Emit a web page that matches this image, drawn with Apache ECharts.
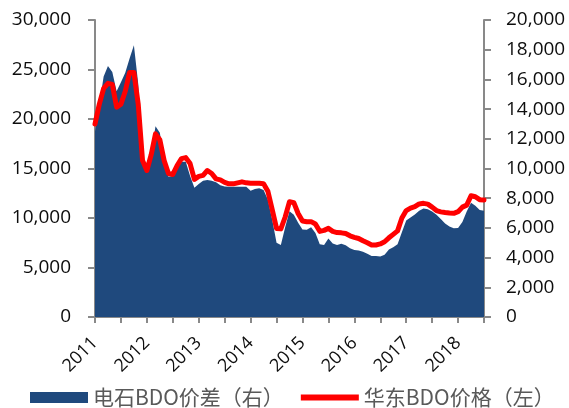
<!DOCTYPE html>
<html>
<head>
<meta charset="utf-8">
<script src="https://cdn.jsdelivr.net/npm/echarts@6/dist/echarts.min.js"></script>
<style>
html,body{margin:0;padding:0;background:#fff;}
#chart{width:569px;height:408px;}
</style>
</head>
<body>
<div id="chart"></div>
<script>
// Monthly categories Jan 2011 .. Jul 2018
const months = [];
for (let y = 2011; y <= 2018; y++) {
  for (let m = 1; m <= 12; m++) {
    if (y === 2018 && m > 7) break;
    months.push(y + '-' + (m < 10 ? '0' + m : m));
  }
}

// 华东BDO价格（左）
const priceEast = [
  19500,21500,23100,23600,23500,21200,21500,22800,24700,24700,21500,15800,
  14800,16400,18500,17900,15800,14500,14400,15300,16000,16100,15500,13900,
  14200,14300,14800,14500,13950,13850,13600,13450,13450,13550,13650,13550,
  13500,13500,13500,13450,12700,10850,8950,8900,10100,11650,11550,10450,
  9700,9630,9630,9400,8650,8750,8950,8650,8530,8500,8430,8200,
  8050,7930,7700,7500,7270,7270,7380,7600,8000,8350,8700,10000,
  10750,11000,11140,11420,11480,11400,11100,10750,10620,10550,10500,10470,
  10640,11100,11300,12250,12150,11850,11820
];

// 电石BDO价差（右）
const spread = [
  12500,14300,16200,16900,16500,15200,15800,16450,17400,18300,15700,10700,
  9750,11000,12850,12400,10600,9450,9500,10100,10460,10460,9500,8700,
  8950,9180,9230,9180,9070,8880,8780,8770,8770,8770,8770,8770,
  8500,8620,8670,8550,7900,6550,5000,4850,6050,7120,6880,6350,
  5900,5880,6050,5650,4900,4850,5280,4950,4850,4930,4830,4630,
  4520,4470,4400,4260,4110,4110,4070,4200,4550,4700,4900,5700,
  6500,6700,6900,7150,7300,7250,7100,6880,6600,6300,6100,5980,
  6000,6400,7100,7700,7500,7200,7150
];

const seriesNames = ['电石BDO价差（右）', '华东BDO价格（左）'];

const fmt = v => String(v).replace(/\B(?=(\d{3})+(?!\d))/g, ',');
const axisGray = '#898989';
const fontFam = '"Open Sans", "Noto Sans CJK SC", sans-serif';
const cjkFam = '"Noto Sans CJK SC", "Open Sans", sans-serif';

const chart = echarts.init(document.getElementById('chart'), null, {renderer: 'canvas'});
chart.setOption({
  animation: false,
  backgroundColor: '#fff',
  grid: {left: 95, right: 85, top: 20, bottom: 91, containLabel: false},
  legend: {
    left: 25, top: 382,
    itemWidth: 58, itemHeight: 11, itemGap: 17,
    textStyle: {fontFamily: cjkFam, fontSize: 21, color: '#595959'},
    data: [
      {name: seriesNames[0], icon: 'rect', itemStyle: {color: '#1F497D'}},
      {name: seriesNames[1], icon: 'path://M0,0 H58 V6 H0 Z', itemStyle: {color: '#FF0000'}}
    ]
  },
  xAxis: {
    type: 'category',
    data: months,
    boundaryGap: false,
    axisLine: {lineStyle: {color: axisGray, width: 2}},
    axisTick: {show: true, length: 6, interval: i => i % 6 === 0, lineStyle: {color: axisGray, width: 2}},
    axisLabel: {
      interval: i => i % 12 === 0,
      rotate: 45,
      formatter: v => v.slice(0, 4),
      fontFamily: fontFam, fontSize: 18, color: '#0d0d0d', margin: 23
    },
    splitLine: {show: false}
  },
  yAxis: [
    {
      type: 'value', min: 0, max: 30000, interval: 5000, position: 'left',
      axisLine: {show: true, lineStyle: {color: axisGray, width: 2}},
      axisTick: {show: true, length: 7, lineStyle: {color: axisGray, width: 2}},
      axisLabel: {formatter: fmt, fontFamily: fontFam, fontSize: 19, color: '#0d0d0d', margin: 24},
      splitLine: {show: false}
    },
    {
      type: 'value', min: 0, max: 20000, interval: 2000, position: 'right',
      axisLine: {show: true, lineStyle: {color: axisGray, width: 2}},
      axisTick: {show: true, length: 7, lineStyle: {color: axisGray, width: 2}},
      axisLabel: {formatter: fmt, fontFamily: fontFam, fontSize: 19, color: '#0d0d0d', margin: 22},
      splitLine: {show: false}
    }
  ],
  series: [
    {
      name: seriesNames[0], type: 'line', yAxisIndex: 1, data: spread,
      showSymbol: false, symbol: 'none',
      lineStyle: {width: 0, color: '#1F497D'},
      itemStyle: {color: '#1F497D'},
      areaStyle: {color: '#1F497D', opacity: 1},
      z: 1
    },
    {
      name: seriesNames[1], type: 'line', yAxisIndex: 0, data: priceEast,
      showSymbol: false, symbol: 'none',
      lineStyle: {width: 5, color: '#FF0000', join: 'round', cap: 'round'},
      itemStyle: {color: '#FF0000'},
      z: 3
    }
  ]
});
</script>
</body>
</html>
